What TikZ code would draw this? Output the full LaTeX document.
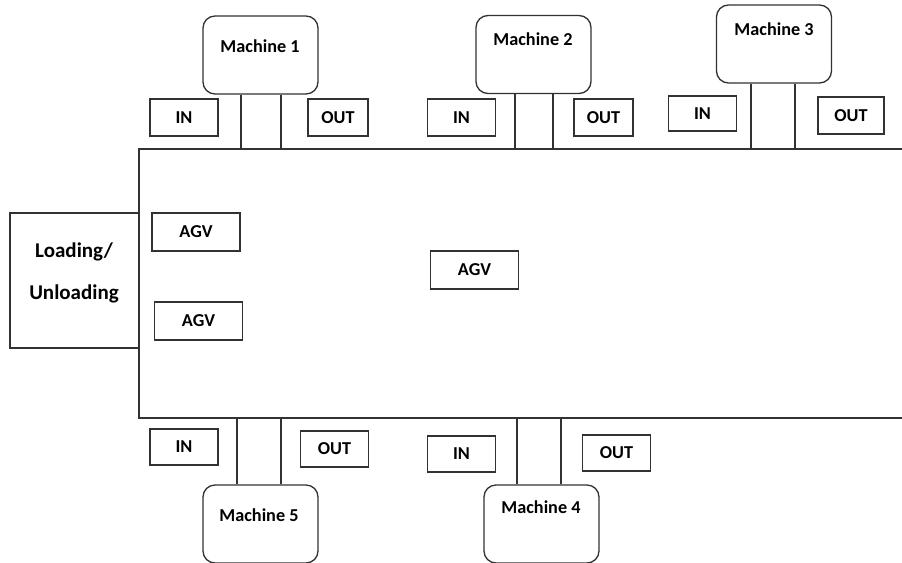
\documentclass[tikz,border=0pt]{standalone}
\usepackage{fontspec}
\setmainfont{Carlito}
\usetikzlibrary{positioning, calc}
\definecolor{lineGray}{RGB}{50, 50, 50}

\begin{document}
\begin{tikzpicture}[
    x=0.5pt, y=-0.5pt,
    every node/.style={font=\fontsize{9.1}{10.9}\selectfont\bfseries, text=black},
    iobox/.style={rectangle, draw=lineGray, line width=0.65pt, minimum width=34pt, minimum height=18.5pt, inner sep=0pt},
    agv/.style={rectangle, draw=lineGray, line width=0.65pt, minimum width=44pt, minimum height=19pt, inner sep=0pt},
    machine/.style={rectangle, draw=lineGray, line width=0.65pt, rounded corners=6pt, minimum width=57.5pt, minimum height=39pt, inner sep=0pt},
    leg/.style={draw=lineGray, line width=0.65pt}
]
\useasboundingbox (0,0) rectangle (902,563);

% Shop floor (open on the right)
\coordinate (ftr) at (902,149);
\coordinate (ftl) at (139,149);
\coordinate (fbl) at (139,418);
\coordinate (fbr) at (902,418);
\draw[leg] (ftr) -- (ftl) -- (fbl) -- (fbr);

% Loading station
\node[rectangle, draw=lineGray, line width=0.65pt, minimum width=64.5pt, minimum height=67.5pt, inner sep=0pt] (load) at (74.5,280.5) {};
\node[align=center, font=\fontsize{10.5}{12.6}\selectfont\bfseries] (loadtxt) at (74,273) {Loading/\\[8pt]Unloading};

% Machines on the upper side
\node[machine] (m1) at (260.5,55)   {};
\node[machine] (m2) at (533.5,54.5) {};
\node[machine] (m3) at (774,44)     {};
\node (m1txt) at (260,46) {Machine 1};
\node (m2txt) at (533,39) {Machine 2};
\node (m3txt) at (774,29) {Machine 3};

% Machines on the lower side
\node[machine] (m5) at (260.5,524) {};
\node[machine] (m4) at (541.5,524) {};
\node (m5txt) at (259,515) {Machine 5};
\node (m4txt) at (541,507) {Machine 4};

% Machine legs down/up to the floor
\draw[leg] ([xshift=-9.75pt]m1.south) -- ([xshift=-9.75pt]m1.south |- ftl);
\draw[leg] ([xshift=10.25pt]m1.south) -- ([xshift=10.25pt]m1.south |- ftl);
\draw[leg] ([xshift=-9.25pt]m2.south) -- ([xshift=-9.25pt]m2.south |- ftl);
\draw[leg] ([xshift=9.75pt]m2.south) -- ([xshift=9.75pt]m2.south |- ftl);
\draw[leg] ([xshift=-11.5pt]m3.south) -- ([xshift=-11.5pt]m3.south |- ftl);
\draw[leg] ([xshift=10.5pt]m3.south) -- ([xshift=10.5pt]m3.south |- ftl);
\draw[leg] ([xshift=-11.75pt]m5.north) -- ([xshift=-11.75pt]m5.north |- fbl);
\draw[leg] ([xshift=10.25pt]m5.north) -- ([xshift=10.25pt]m5.north |- fbl);
\draw[leg] ([xshift=-12.25pt]m4.north) -- ([xshift=-12.25pt]m4.north |- fbl);
\draw[leg] ([xshift=9.75pt]m4.north) -- ([xshift=9.75pt]m4.north |- fbl);

% IN / OUT buffers
\node[iobox] (in1)  at (184,117.5)   {IN};
\node[iobox, minimum width=30pt] (out1) at (338,117.5) {OUT};
\node[iobox] (in2)  at (461.5,117.5) {IN};
\node[iobox, minimum width=29.5pt] (out2) at (603.5,117.5) {OUT};
\node[iobox, minimum height=17.5pt] (in3) at (702.5,113.5) {IN};
\node[iobox, minimum width=33pt] (out3) at (851,115.5) {OUT};
\node[iobox, minimum height=18pt] (in5) at (184,447) {IN};
\node[iobox, minimum height=18pt] (out5) at (334.5,449) {OUT};
\node[iobox, minimum height=18pt] (in4) at (461.5,454) {IN};
\node[iobox, minimum height=18pt] (out4) at (616.5,453) {OUT};

% Vehicles
\node[agv] (agv1) at (196,232)   {AGV};
\node[agv] (agv2) at (198.5,321) {AGV};
\node[agv] (agv3) at (474.5,270) {AGV};

\end{tikzpicture}
\end{document}
